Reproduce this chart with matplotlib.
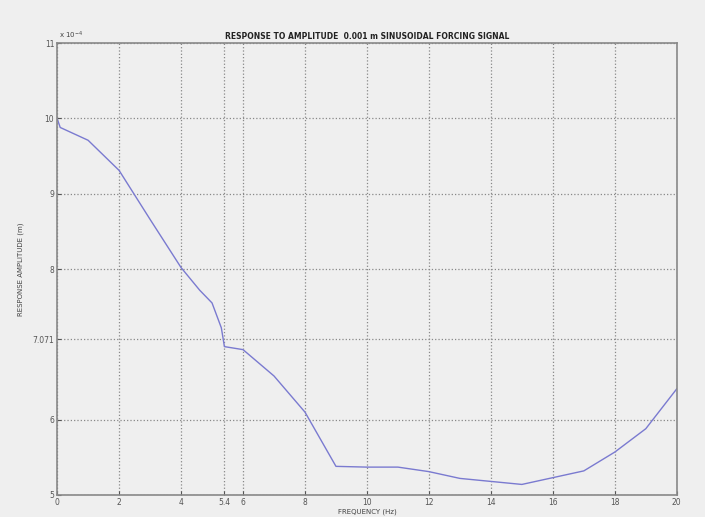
import matplotlib
matplotlib.use("Agg")
import matplotlib.pyplot as plt

# frequency (Hz) and response amplitude (x 1e-4 m)
freq = [0, 0.1, 1, 2, 3, 4, 4.6, 5, 5.3, 5.4, 6, 7, 8, 9, 10, 11, 12, 13, 14, 15, 16, 17, 18, 19, 20]
amp = [10.0, 9.88, 9.71, 9.31, 8.66, 8.02, 7.72, 7.55, 7.22, 6.97, 6.93, 6.58, 6.1, 5.38, 5.37, 5.37,
       5.31, 5.22, 5.18, 5.14, 5.23, 5.32, 5.57, 5.88, 6.41]

xticks = [0, 2, 4, 5.4, 6, 8, 10, 12, 14, 16, 18, 20]
xticklabels = ['0', '2', '4', '5.4', '6', '8', '10', '12', '14', '16', '18', '20']
yticks = [5, 6, 7.071, 8, 9, 10, 11]
yticklabels = ['5', '6', '7.071', '8', '9', '10', '11']

bg = '#efefef'
fig = plt.figure(figsize=(7.05, 5.17), dpi=100, facecolor=bg)
ax = fig.add_axes([0.081, 0.0426, 0.879, 0.874], facecolor=bg)

ax.plot(freq, amp, color='#7a7ad0', lw=1.0)

ax.set_xlim(0, 20)
ax.set_ylim(5, 11)
ax.set_xticks(xticks)
ax.set_xticklabels(xticklabels)
ax.set_yticks(yticks)
ax.set_yticklabels(yticklabels)
ax.tick_params(labelsize=5.5, colors='#555555', length=3, direction='in', pad=2)
ax.grid(True, linestyle=':', color='#888888', lw=0.9)
for s in ax.spines.values():
    s.set_color('#888888')
    s.set_linewidth(1.2)

ax.set_title('RESPONSE TO AMPLITUDE  0.001 m SINUSOIDAL FORCING SIGNAL', fontsize=5.5,
             fontweight='bold', color='#222222', pad=3)
ax.set_xlabel('FREQUENCY (Hz)', fontsize=5, color='#444444', labelpad=1)
ax.set_ylabel('RESPONSE AMPLITUDE (m)', fontsize=5, color='#444444', labelpad=6)
ax.text(0.003, 1.004, r'x 10$^{-4}$', transform=ax.transAxes, fontsize=5, color='#444444',
        ha='left', va='bottom')

fig.savefig('out.png', dpi=100, facecolor=bg)
